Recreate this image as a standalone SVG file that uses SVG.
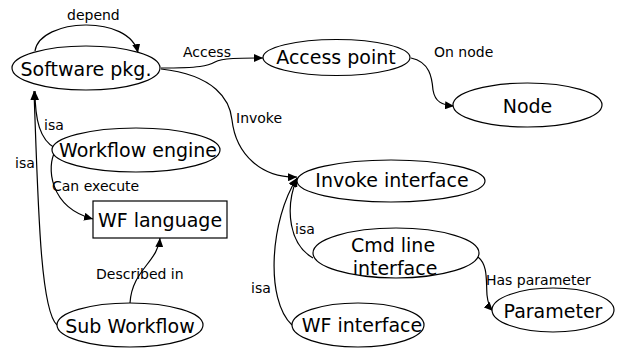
<svg xmlns="http://www.w3.org/2000/svg" width="620" height="349" viewBox="0 0 620 349">
<style>
.n{fill:#fff;stroke:#000;stroke-width:1.2}
.t{font-family:"DejaVu Sans",Verdana,sans-serif;font-size:19px;fill:#000;text-anchor:middle}
.l{font-family:"DejaVu Sans",Verdana,sans-serif;font-size:14px;fill:#000}
.e{fill:none;stroke:#000;stroke-width:1.2;marker-end:url(#a)}
</style>
<defs>
<marker id="a" markerUnits="userSpaceOnUse" markerWidth="10" markerHeight="8" refX="9" refY="4" orient="auto">
<path d="M0,0 L9,4 L0,8 z" fill="#000"/>
</marker>
</defs>
<rect width="620" height="349" fill="#fff"/>
<g id="edges">
<path class="e" d="M35,51 C40,18 130,14 138,53"/>
<path class="e" d="M161,68 C200,68 208,66 215,62 C222,58 240,58 263,58"/>
<path class="e" d="M411,58 C430,62 432,78 433,90 C435,102 442,105 454,106"/>
<path class="e" d="M161,69 C215,75 230,100 232,120 C236,155 262,178 297,177"/>
<path class="e" d="M55,148 C40,140 35,120 35,91"/>
<path class="e" d="M57,325 C40,310 38,200 34,91"/>
<path class="e" d="M55,152 C47,165 48,207 93,219"/>
<path class="e" d="M130,303 C132,270 158,262 160,238"/>
<path class="e" d="M313,258 C290,245 284,210 297,178"/>
<path class="e" d="M292,325 C265,300 270,220 297,178"/>
<path class="e" d="M478,257 C488,265 486,280 487,295 C488,305 490,308 493,311"/>
<text class="l" x="67" y="20">depend</text>
<text class="l" x="183" y="57">Access</text>
<text class="l" x="434" y="57">On node</text>
<text class="l" x="236" y="123">Invoke</text>
<text class="l" x="44" y="130">isa</text>
<text class="l" x="15" y="168">isa</text>
<text class="l" x="52" y="191">Can execute</text>
<text class="l" x="96" y="279">Described in</text>
<text class="l" x="251" y="293">isa</text>
<text class="l" x="295" y="234">isa</text>
<text class="l" x="486" y="285">Has parameter</text>
</g>
<g id="software"><ellipse class="n" cx="86" cy="68" rx="74" ry="22"/><text class="t" x="86" y="76">Software pkg.</text></g>
<g id="accesspoint"><ellipse class="n" cx="336.5" cy="57.5" rx="73.5" ry="18"/><text class="t" x="336" y="64">Access point</text></g>
<g id="node"><ellipse class="n" cx="527.5" cy="105" rx="74.5" ry="22"/><text class="t" x="527.5" y="113">Node</text></g>
<g id="wfengine"><ellipse class="n" cx="136" cy="150" rx="84" ry="22"/><text class="t" x="138" y="157">Workflow engine</text></g>
<g id="wflanguage"><rect class="n" x="93" y="201" width="134" height="37"/><text class="t" x="160" y="227">WF language</text></g>
<g id="subworkflow"><ellipse class="n" cx="130" cy="325" rx="73" ry="22"/><text class="t" x="130" y="333">Sub Workflow</text></g>
<g id="invoke"><ellipse class="n" cx="391" cy="181" rx="94" ry="21"/><text class="t" x="392" y="187">Invoke interface</text></g>
<g id="cmdline"><ellipse class="n" cx="396" cy="253" rx="83" ry="25"/><text class="t" x="393" y="252">Cmd line</text><text class="t" x="395" y="275">interface</text></g>
<g id="parameter"><ellipse class="n" cx="553" cy="310" rx="61" ry="22"/><text class="t" x="553" y="318">Parameter</text></g>
<g id="wfinterface"><ellipse class="n" cx="358" cy="325" rx="66" ry="22"/><text class="t" x="362" y="332">WF interface</text></g>
</svg>
